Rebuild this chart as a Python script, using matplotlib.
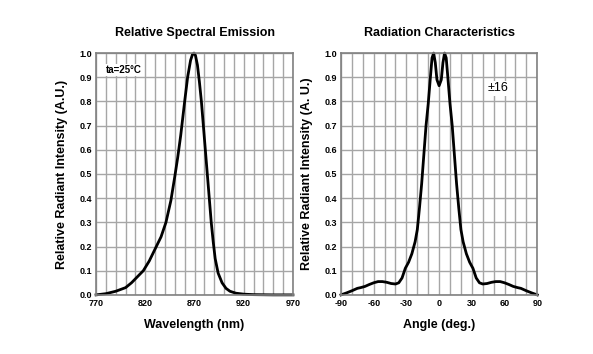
import matplotlib.pyplot as plt
import numpy as np

plt.rcParams['font.family'] = ['Liberation Sans', 'DejaVu Sans']
plt.rcParams['axes.unicode_minus'] = False

# spectral emission
wavelength = [770, 780, 790, 800, 806, 812, 818, 824, 830, 836, 841, 846, 850, 853,
              856, 860, 863, 866, 868, 869.5, 871, 873, 875, 877, 879, 881, 883, 885,
              887, 889, 891, 894, 898, 902, 906, 912, 920, 930, 950, 970]
intensity = [0.0, 0.005, 0.015, 0.03, 0.05, 0.075, 0.1, 0.14, 0.19, 0.24, 0.30, 0.39,
             0.49, 0.57, 0.66, 0.80, 0.90, 0.97, 0.995, 1.0, 0.99, 0.95, 0.88, 0.80,
             0.70, 0.60, 0.50, 0.40, 0.30, 0.22, 0.15, 0.09, 0.05, 0.027, 0.015,
             0.007, 0.003, 0.001, 0.0, 0.0]

# radiation pattern
angle = [-90, -85, -80, -75, -72, -68, -64, -60, -56, -52, -48, -44, -40, -37, -34,
         -31, -28, -25, -22, -20, -18, -16, -14, -12, -10, -8, -6.5, -5, -3.5, -2,
         0, 2, 3.5, 5, 6.5, 8, 10, 12, 14, 16, 18, 20, 22, 25, 28, 31, 34, 37, 40,
         44, 48, 52, 56, 60, 64, 68, 72, 75, 80, 85, 90]
rel = [0.0, 0.008, 0.017, 0.027, 0.03, 0.035, 0.043, 0.05, 0.055, 0.055, 0.052,
       0.047, 0.045, 0.05, 0.07, 0.11, 0.135, 0.17, 0.22, 0.27, 0.36, 0.46, 0.58,
       0.70, 0.79, 0.90, 0.98, 1.0, 0.96, 0.89, 0.865, 0.89, 0.96, 1.0, 0.98, 0.90,
       0.79, 0.70, 0.58, 0.46, 0.36, 0.27, 0.22, 0.17, 0.135, 0.11, 0.07, 0.05,
       0.045, 0.047, 0.052, 0.055, 0.055, 0.05, 0.043, 0.035, 0.03, 0.027, 0.017,
       0.008, 0.0]

fig = plt.figure(figsize=(5.93, 3.54), dpi=100)
ax1 = fig.add_axes([0.162, 0.167, 0.332, 0.683])
ax2 = fig.add_axes([0.575, 0.167, 0.331, 0.683])


def style(ax, xlim, xticks, xminor):
    ax.set_xlim(*xlim)
    ax.set_ylim(0, 1.0)
    ax.set_xticks(xticks)
    ax.set_xticks(xminor, minor=True)
    ax.set_yticks(np.arange(0, 1.01, 0.1))
    ax.set_yticklabels(['%.1f' % v for v in np.arange(0, 1.01, 0.1)])
    ax.grid(True, which='both', color='#a6a6a6', linewidth=1.0)
    ax.set_axisbelow(True)
    ax.tick_params(which='both', length=0, labelsize=6.5, pad=3)
    for lab in ax.get_xticklabels() + ax.get_yticklabels():
        lab.set_fontweight('bold')
    for s in ax.spines.values():
        s.set_color('#808080')
        s.set_linewidth(1.2)


style(ax1, (770, 970), [770, 820, 870, 920, 970], np.arange(770, 971, 10))
ax1.plot(wavelength, intensity, color='black', linewidth=2, clip_on=False)
ax1.set_title('Relative Spectral Emission', fontsize=9, fontweight='bold', pad=12)
ax1.set_xlabel('Wavelength (nm)', fontsize=9, fontweight='bold', labelpad=8)
ax1.set_ylabel('Relative Radiant Intensity (A.U.)', fontsize=9, fontweight='bold', labelpad=8)
ax1.text(0.05, 0.93, 'ta=25°C', transform=ax1.transAxes, fontsize=7,
         fontweight='bold', va='center', ha='left',
         bbox=dict(facecolor='white', edgecolor='none', pad=1))

style(ax2, (-90, 90), [-90, -60, -30, 0, 30, 60, 90], np.arange(-90, 91, 10))
ax2.plot(angle, rel, color='black', linewidth=2, clip_on=False)
ax2.set_title('Radiation Characteristics', fontsize=9, fontweight='bold', pad=12)
ax2.set_xlabel('Angle (deg.)', fontsize=9, fontweight='bold', labelpad=8)
ax2.set_ylabel('Relative Radiant Intensity (A. U.)', fontsize=9, fontweight='bold', labelpad=8)
ax2.text(0.8, 0.855, '±16', transform=ax2.transAxes, fontsize=9,
         va='center', ha='center',
         bbox=dict(facecolor='white', edgecolor='none', pad=1))

fig.savefig('out.png', dpi=100)
